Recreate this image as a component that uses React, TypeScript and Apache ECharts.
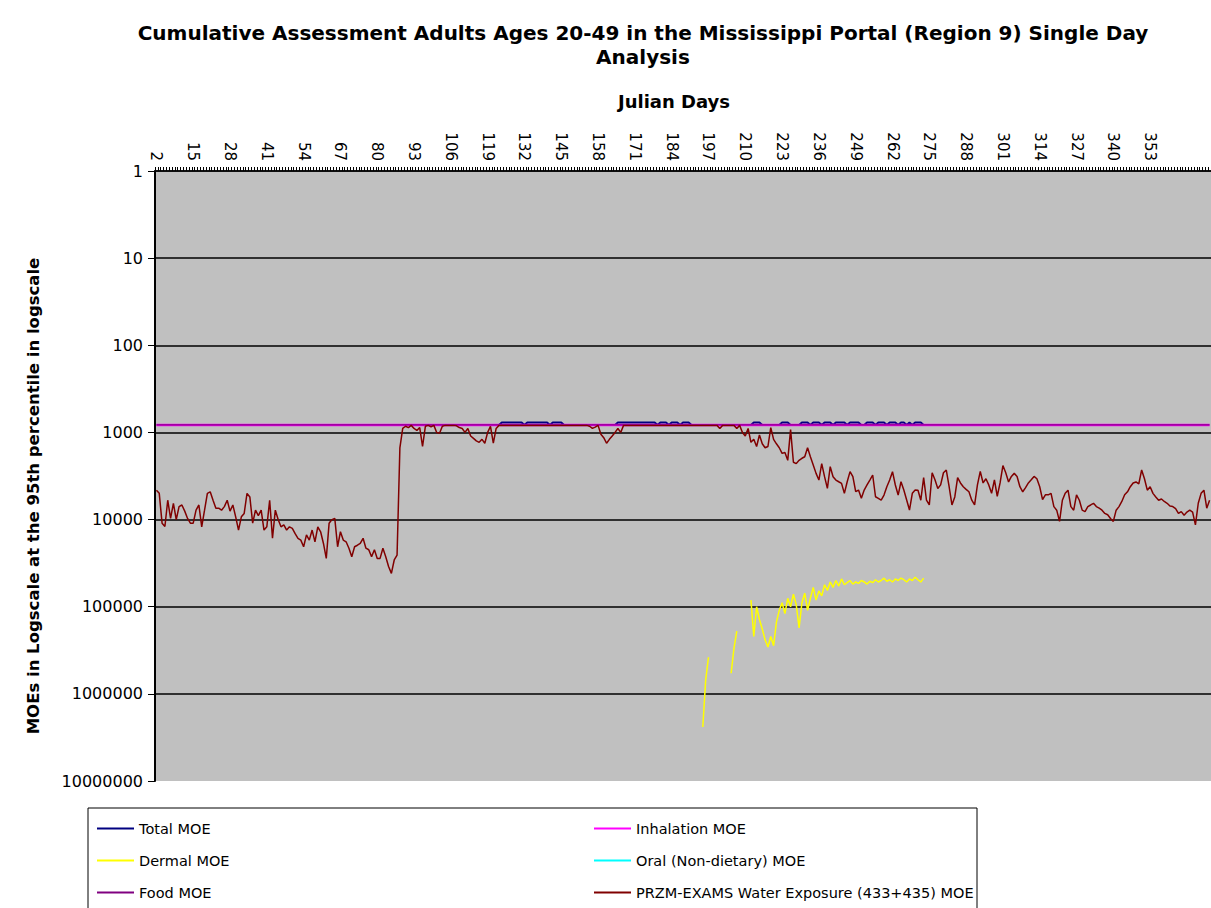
import React, { useEffect, useRef } from "react";
import * as echarts from "echarts";

// ---------- DATA ----------
const FIRST_DAY = 2;
const LAST_DAY = 374;
const LAST_LABELLED_DAY = 353;
const DAYS: string[] = Array.from({ length: LAST_DAY - FIRST_DAY + 1 }, (_, i) => String(FIRST_DAY + i));

const TITLE = "Cumulative Assessment Adults Ages 20-49 in the Mississippi Portal (Region 9) Single Day\nAnalysis";
const X_NAME = "Julian Days";
const Y_NAME = "MOEs in Logscale at the 95th percentile in logscale";

const SERIES_NAMES = [
  "Total MOE",
  "Inhalation MOE",
  "Dermal MOE",
  "Oral (Non-dietary) MOE",
  "Food MOE",
  "PRZM-EXAMS Water Exposure (433+435) MOE",
];

// PRZM-EXAMS water exposure MOE, one value per day, days 2..374
const PRZM_WATER_MOE: number[] = [
  4600, 5000, 11000, 12000, 6000, 9700, 6500, 10000, 7100, 6800,
  8000, 9700, 11000, 11000, 7800, 6800, 12100, 7800, 5000, 4800,
  6000, 7400, 7400, 7800, 7100, 6000, 8000, 6800, 9300, 13200,
  9300, 8500, 5000, 5500, 11000, 7800, 9000, 7800, 13200, 12100,
  6000, 16400, 7800, 10000, 12100, 11500, 13200, 12100, 12600, 14500,
  16400, 17200, 20500, 15000, 17200, 13200, 18000, 12100, 13800, 18800,
  27900, 11000, 10000, 9700, 20500, 13800, 17200, 18000, 21300, 26700,
  20500, 19700, 18800, 16400, 21300, 22200, 26700, 22200, 27900, 27900,
  21300, 26700, 34600, 41400, 29100, 25600, 1500, 900, 850, 880,
  830, 900, 950, 880, 1450, 850, 830, 860, 830, 1000,
  1020, 850, 830, 830, 830, 830, 840, 880, 900, 1000,
  900, 1100, 1170, 1250, 1300, 1200, 1330, 1000, 850, 1330,
  900, 830, 830, 830, 830, 830, 830, 830, 830, 830,
  830, 830, 830, 830, 830, 830, 830, 830, 830, 830,
  830, 830, 830, 830, 830, 830, 830, 830, 830, 830,
  830, 830, 830, 850, 900, 870, 830, 1050, 1150, 1330,
  1200, 1100, 1000, 900, 1000, 830, 830, 830, 830, 830,
  830, 830, 830, 830, 830, 830, 830, 830, 830, 830,
  830, 830, 830, 830, 830, 830, 830, 830, 830, 830,
  830, 830, 830, 830, 830, 830, 830, 830, 830, 900,
  830, 830, 830, 830, 830, 900, 830, 1000, 1100, 900,
  1300, 1200, 1450, 1070, 1350, 1500, 1450, 880, 1200, 1350,
  1500, 1740, 1700, 2090, 930, 2200, 2280, 2090, 1980, 1900,
  1500, 1900, 2370, 2950, 3520, 2280, 3220, 4380, 2470, 3220,
  3520, 3680, 3840, 5000, 3680, 2820, 3220, 4790, 4580, 5710,
  4580, 4010, 3520, 3080, 5470, 5710, 5970, 5230, 4200, 3520,
  2820, 4010, 5230, 3680, 4580, 5970, 7770, 5000, 4580, 4600,
  6000, 3300, 6000, 6800, 2900, 3500, 4400, 4000, 2900, 2700,
  4200, 6800, 5500, 3300, 3800, 4200, 4500, 4800, 6000, 6800,
  4000, 2800, 3800, 3400, 4000, 5000, 3500, 5400, 3800, 2400,
  2900, 3700, 3200, 2950, 3200, 4200, 4800, 4300, 3800, 3500,
  3200, 3400, 4200, 5900, 5200, 5200, 5000, 7100, 7800, 10500,
  6000, 5000, 4600, 7100, 7800, 5200, 6000, 7800, 8100, 7100,
  6800, 6500, 7100, 7400, 7800, 8500, 8800, 9700, 10500, 7800,
  7100, 6200, 5200, 4800, 4200, 3800, 3700, 3900, 2700, 3400,
  4600, 4200, 5000, 5500, 6000, 5800, 6200, 6500, 7000, 7100,
  7500, 8500, 8100, 8900, 8200, 7800, 8200, 11500, 6500, 5000,
  4600, 7400, 6000,
];

// Dermal MOE, days 195..273 (null = no value)
const DERMAL_FIRST_DAY = 195;
const DERMAL_MOE: (number | null)[] = [
  2400000, 700000, 380000, null, null, null, null, null, null, null,
  580000, 300000, 190000, null, null, null, null, 84000, 220000, 100000,
  140000, 180000, 240000, 290000, 220000, 280000, 150000, 110000, 90000, 120000,
  80000, 100000, 72000, 95000, 175000, 90000, 70000, 110000, 80000, 60000,
  84000, 66000, 75000, 56000, 65000, 52000, 60000, 50000, 58000, 48000,
  56000, 53000, 50000, 55000, 52000, 54000, 50000, 52000, 55000, 51000,
  53000, 49000, 52000, 50000, 47000, 51000, 49000, 52000, 48000, 50000,
  47000, 49000, 52000, 48000, 50000, 46000, 49000, 52000, 47000,
];

// Inhalation and food MOE: constant level, given as [day, value] end points
const INHALATION_MOE: [number, number][] = [[2, 820], [374, 820]];
const FOOD_MOE: [number, number][] = [[2, 820], [374, 820]];
const ORAL_MOE: [number, number][] = [];

// Total MOE [day, value]
const TOTAL_MOE: [number, number][] = [
  [123, 820], [124, 770], [125, 770], [126, 770], [127, 770], [128, 770], [129, 770], [130, 770], [131, 770],
  [132, 820], [133, 770], [134, 770], [135, 770], [136, 770], [137, 770], [138, 770], [139, 770], [140, 770],
  [141, 820], [142, 770], [143, 770], [144, 770], [145, 770], [146, 820],
  [164, 820], [165, 770], [166, 770], [167, 770], [168, 770], [169, 770], [170, 770], [171, 770], [172, 770],
  [173, 770], [174, 770], [175, 770], [176, 770], [177, 770], [178, 770], [179, 820], [180, 770], [181, 770],
  [182, 770], [183, 820], [184, 770], [185, 770], [186, 770], [187, 820], [188, 770], [189, 770], [190, 770], [191, 820],
  [212, 820], [213, 770], [214, 770], [215, 770], [216, 820],
  [222, 820], [223, 770], [224, 770], [225, 770], [226, 820],
  [229, 820], [230, 770], [231, 770], [232, 770], [233, 820], [234, 770], [235, 770], [236, 770], [237, 820],
  [238, 770], [239, 770], [240, 770], [241, 820], [242, 770], [243, 770], [244, 770], [245, 770], [246, 820],
  [247, 770], [248, 770], [249, 770], [250, 770], [251, 820], [252, 820], [253, 770], [254, 770], [255, 770],
  [256, 820], [257, 770], [258, 770], [259, 770], [260, 820], [261, 770], [262, 770], [263, 770], [264, 820],
  [265, 770], [266, 770], [267, 820], [268, 770], [269, 820], [270, 770], [271, 770], [272, 770], [273, 820],
];

const COLORS = ["#000080", "#FF00FF", "#FFFF00", "#00FFFF", "#800080", "#800000"];

// ---------- helpers to shape data for the library ----------
const toIndexed = (pairs: [number, number][]) => pairs.map(([d, v]) => [d - FIRST_DAY, v]);

const byDay = (pairs: [number, number][]) => {
  const m = new Map<number, number>();
  pairs.forEach(([d, v]) => m.set(d, v));
  return DAYS.map((d) => (m.has(+d) ? (m.get(+d) as number) : null));
};

const dermalFull = DAYS.map((d) => {
  const i = +d - DERMAL_FIRST_DAY;
  return i >= 0 && i < DERMAL_MOE.length ? DERMAL_MOE[i] : null;
});

const FONT = "DejaVu Sans";

export default function App() {
  const ref = useRef<HTMLDivElement>(null);

  useEffect(() => {
    document.body.style.margin = "0";
    if (!ref.current) return;
    const chart = echarts.init(ref.current, undefined, { renderer: "svg" });

    const lineSeries = (name: string, data: any, color: string, width: number) => ({
      name,
      type: "line",
      data,
      symbol: "none",
      showSymbol: false,
      connectNulls: false,
      color,
      lineStyle: { color, width },
      itemStyle: { color },
      emphasis: { disabled: true },
    });

    const legendCommon = {
      orient: "vertical",
      top: 820,
      itemWidth: 37,
      itemHeight: 2,
      itemGap: 15,
      icon: "rect",
      selectedMode: false,
      padding: 0,
      textStyle: { fontSize: 14.5, color: "#000", fontFamily: FONT, lineHeight: 17 },
    };

    chart.setOption({
      animation: false,
      backgroundColor: "#ffffff",
      textStyle: { fontFamily: FONT },
      title: {
        text: TITLE,
        left: 643,
        top: 21,
        padding: 0,
        textAlign: "center",
        textStyle: { fontSize: 20, fontWeight: "bold", lineHeight: 24, color: "#000", fontFamily: FONT },
      },
      grid: {
        left: 155,
        top: 171,
        right: 0,
        bottom: 127,
        show: true,
        backgroundColor: "#C0C0C0",
        borderWidth: 0,
      },
      xAxis: {
        type: "category",
        position: "top",
        data: DAYS,
        boundaryGap: true,
        axisLine: { show: true, lineStyle: { color: "#000", width: 1.5 } },
        axisTick: { show: true, interval: 0, length: 4, lineStyle: { color: "#000", width: 1 } },
        axisLabel: {
          interval: (index: number, value: string) => index % 13 === 0 && +value <= LAST_LABELLED_DAY,
          rotate: 90,
          fontSize: 15,
          color: "#000",
          margin: 10,
          fontFamily: FONT,
        },
        splitLine: { show: false },
      },
      yAxis: {
        type: "log",
        logBase: 10,
        min: 1,
        max: 10000000,
        inverse: true,
        axisLine: { show: true, lineStyle: { color: "#000", width: 2 } },
        axisTick: { show: true, length: 7, lineStyle: { color: "#000" } },
        axisLabel: {
          fontSize: 16,
          color: "#000",
          margin: 12,
          fontFamily: FONT,
          formatter: (v: number) => String(Math.round(v)),
        },
        splitLine: { show: true, showMaxLine: false, lineStyle: { color: "#000", width: 1.5 } },
        minorTick: { show: false },
      },
      legend: [
        { ...legendCommon, left: 97, data: [SERIES_NAMES[0], SERIES_NAMES[2], SERIES_NAMES[4]] },
        { ...legendCommon, left: 594, data: [SERIES_NAMES[1], SERIES_NAMES[3], SERIES_NAMES[5]] },
      ],
      graphic: [
        {
          type: "rect",
          shape: { x: 88, y: 808, width: 889, height: 130 },
          style: { fill: "none", stroke: "#000", lineWidth: 1 },
          silent: true,
        },
        {
          type: "text",
          x: 674,
          y: 101,
          style: {
            text: X_NAME,
            fontSize: 18,
            fontWeight: "bold",
            fontFamily: FONT,
            fill: "#000",
            align: "center",
            verticalAlign: "middle",
          },
        },
        {
          type: "text",
          x: 33,
          y: 496,
          rotation: Math.PI / 2,
          style: {
            text: Y_NAME,
            fontSize: 16.5,
            fontWeight: "bold",
            fontFamily: FONT,
            fill: "#000",
            align: "center",
            verticalAlign: "middle",
          },
        },
      ],
      series: [
        lineSeries(SERIES_NAMES[0], byDay(TOTAL_MOE), COLORS[0], 2),
        lineSeries(SERIES_NAMES[1], toIndexed(INHALATION_MOE), COLORS[1], 2.5),
        lineSeries(SERIES_NAMES[2], dermalFull, COLORS[2], 1.5),
        lineSeries(SERIES_NAMES[3], toIndexed(ORAL_MOE), COLORS[3], 1.5),
        lineSeries(SERIES_NAMES[4], toIndexed(FOOD_MOE), COLORS[4], 1.2),
        lineSeries(SERIES_NAMES[5], PRZM_WATER_MOE, COLORS[5], 1.5),
      ],
    });

    return () => chart.dispose();
  }, []);

  return <div ref={ref} style={{ width: 1211, height: 908 }} />;
}
